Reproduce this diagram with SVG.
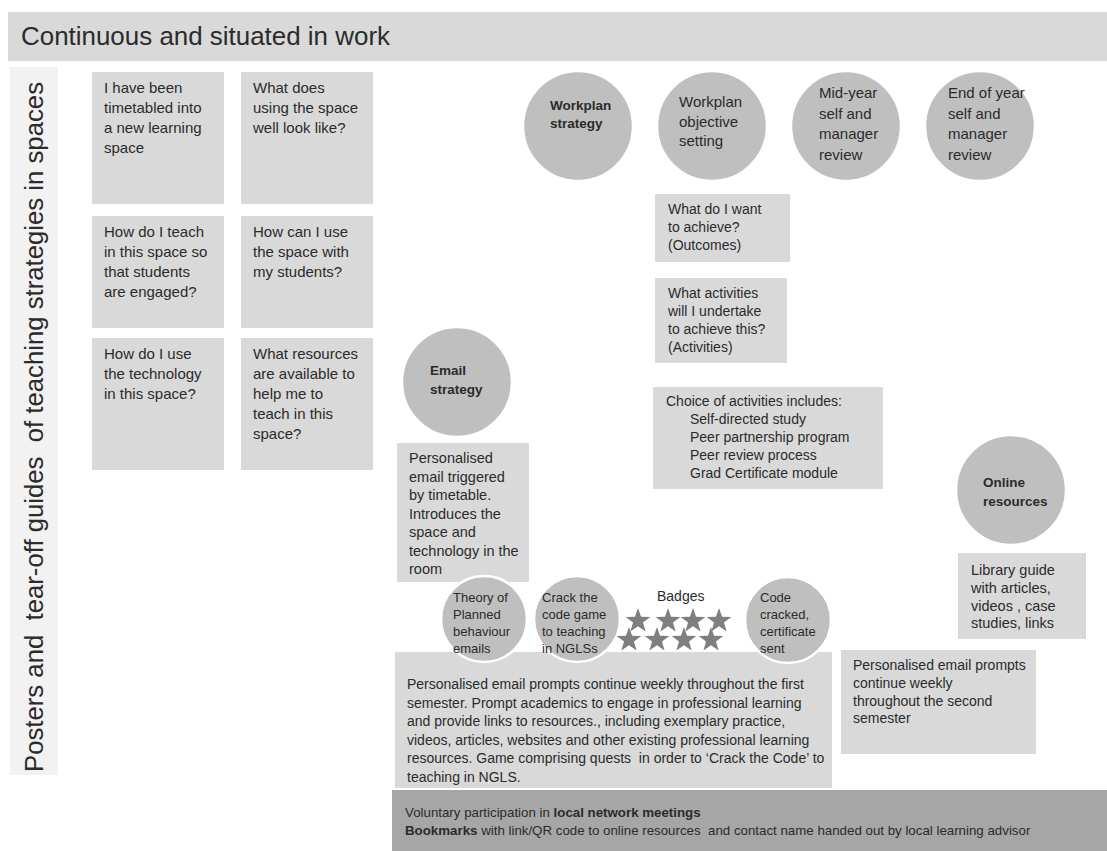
<svg xmlns="http://www.w3.org/2000/svg" xmlns:xlink="http://www.w3.org/1999/xlink" width="1107" height="851" viewBox="0 0 1107 851">
<style>
.bg{fill:#ffffff}
.box{fill:#d9d9d9}
.dark{fill:#a6a6a6}
.side{fill:#f2f2f2}
.circ{fill:#bfbfbf;stroke:#ffffff;stroke-width:2.5}
.star{fill:#7f7f7f}
text{font-family:"Liberation Sans",Arial,sans-serif;fill:#2b2b2b}
.q{font-size:15px}
.c{font-size:15px}
.s{font-size:13px}
.m{font-size:14px}
.b{font-weight:bold}
</style>
<defs>
<polygon id="star" points="0,-13 3.06,-4.21 12.36,-4.02 4.95,1.61 7.64,10.52 0,5.2 -7.64,10.52 -4.95,1.61 -12.36,-4.02 -3.06,-4.21"/>
</defs>
<rect class="bg" x="0" y="0" width="1107" height="851"/>

<g id="header">
<rect class="box" x="8" y="12" width="1099" height="49"/>
<text x="21" y="45" font-size="25" textLength="369" lengthAdjust="spacingAndGlyphs">Continuous and situated in work</text>
</g>

<g id="side-label">
<rect class="side" x="10" y="67" width="48" height="708"/>
<text transform="translate(43,772) rotate(-90)" font-size="25" xml:space="preserve" textLength="690" lengthAdjust="spacingAndGlyphs">Posters and  tear-off guides  of teaching strategies in spaces</text>
</g>

<g id="q1">
<rect class="box" x="92" y="72" width="132" height="132"/>
<text class="q" x="104" y="93">I have been</text>
<text class="q" x="104" y="113">timetabled into</text>
<text class="q" x="104" y="133">a new learning</text>
<text class="q" x="104" y="153">space</text>
</g>
<g id="q2">
<rect class="box" x="241" y="72" width="132" height="132"/>
<text class="q" x="253" y="93">What does</text>
<text class="q" x="253" y="113">using the space</text>
<text class="q" x="253" y="133">well look like?</text>
</g>
<g id="q3">
<rect class="box" x="92" y="216" width="132" height="112"/>
<text class="q" x="104" y="237">How do I teach</text>
<text class="q" x="104" y="257">in this space so</text>
<text class="q" x="104" y="277">that students</text>
<text class="q" x="104" y="297">are engaged?</text>
</g>
<g id="q4">
<rect class="box" x="241" y="216" width="132" height="112"/>
<text class="q" x="253" y="237">How can I use</text>
<text class="q" x="253" y="257">the space with</text>
<text class="q" x="253" y="277">my students?</text>
</g>
<g id="q5">
<rect class="box" x="92" y="338" width="132" height="132"/>
<text class="q" x="104" y="359">How do I use</text>
<text class="q" x="104" y="379">the technology</text>
<text class="q" x="104" y="399">in this space?</text>
</g>
<g id="q6">
<rect class="box" x="241" y="338" width="132" height="132"/>
<text class="q" x="253" y="359">What resources</text>
<text class="q" x="253" y="379">are available to</text>
<text class="q" x="253" y="399">help me to</text>
<text class="q" x="253" y="419">teach in this</text>
<text class="q" x="253" y="439">space?</text>
</g>

<g id="workplan-strategy">
<circle class="circ" cx="578" cy="126" r="55"/>
<text class="b" font-size="13.5" x="550" y="110">Workplan</text>
<text class="b" font-size="13.5" x="550" y="128">strategy</text>
</g>
<g id="workplan-objective">
<circle class="circ" cx="712" cy="126" r="55"/>
<text class="c" x="679" y="107">Workplan</text>
<text class="c" x="679" y="126.5">objective</text>
<text class="c" x="679" y="146">setting</text>
</g>
<g id="mid-year">
<circle class="circ" cx="846" cy="126" r="55"/>
<text class="c" x="819" y="98">Mid-year</text>
<text class="c" x="819" y="118.5">self and</text>
<text class="c" x="819" y="139">manager</text>
<text class="c" x="819" y="159.5">review</text>
</g>
<g id="end-of-year">
<circle class="circ" cx="980" cy="126" r="55"/>
<text class="c" x="948" y="98">End of year</text>
<text class="c" x="948" y="118.5">self and</text>
<text class="c" x="948" y="139">manager</text>
<text class="c" x="948" y="159.5">review</text>
</g>

<g id="outcomes">
<rect class="box" x="655" y="194" width="135" height="68"/>
<text class="m" x="668" y="214">What do I want</text>
<text class="m" x="668" y="232">to achieve?</text>
<text class="m" x="668" y="250">(Outcomes)</text>
</g>
<g id="activities">
<rect class="box" x="655" y="278" width="132" height="85"/>
<text class="m" x="668" y="298">What activities</text>
<text class="m" x="668" y="316">will I undertake</text>
<text class="m" x="668" y="334">to achieve this?</text>
<text class="m" x="668" y="352">(Activities)</text>
</g>
<g id="choice">
<rect class="box" x="653" y="387" width="230" height="102"/>
<text class="m" x="666" y="406">Choice of activities includes:</text>
<text class="m" x="690" y="424">Self-directed study</text>
<text class="m" x="690" y="442">Peer partnership program</text>
<text class="m" x="690" y="460">Peer review process</text>
<text class="m" x="690" y="478">Grad Certificate module</text>
</g>

<g id="email-strategy">
<circle class="circ" cx="457" cy="382" r="55"/>
<text class="b" font-size="13.5" x="430" y="375">Email</text>
<text class="b" font-size="13.5" x="430" y="394">strategy</text>
</g>
<g id="email-triggered">
<rect class="box" x="397" y="443" width="132" height="139"/>
<text font-size="14.5" x="409" y="463">Personalised</text>
<text font-size="14.5" x="409" y="481.5">email triggered</text>
<text font-size="14.5" x="409" y="500">by timetable.</text>
<text font-size="14.5" x="409" y="518.5">Introduces the</text>
<text font-size="14.5" x="409" y="537">space and</text>
<text font-size="14.5" x="409" y="555.5">technology in the</text>
<text font-size="14.5" x="409" y="574">room</text>
</g>

<g id="online-resources">
<circle class="circ" cx="1011" cy="490" r="55"/>
<text class="b" font-size="13.5" x="983" y="487">Online</text>
<text class="b" font-size="13.5" x="983" y="506">resources</text>
</g>
<g id="library-guide">
<rect class="box" x="958" y="553" width="128" height="86"/>
<text font-size="14.5" x="971" y="575">Library guide</text>
<text font-size="14.5" x="971" y="593">with articles,</text>
<text font-size="14.5" x="971" y="611">videos , case</text>
<text font-size="14.5" x="971" y="628">studies, links</text>
</g>

<g id="first-semester">
<rect class="box" x="395" y="652" width="437" height="136"/>
<text class="m" x="407" y="689">Personalised email prompts continue weekly throughout the first</text>
<text class="m" x="407" y="707.5">semester. Prompt academics to engage in professional learning</text>
<text class="m" x="407" y="726">and provide links to resources., including exemplary practice,</text>
<text class="m" x="407" y="744.5">videos, articles, websites and other existing professional learning</text>
<text class="m" x="407" y="763" xml:space="preserve">resources. Game comprising quests  in order to ‘Crack the Code’ to</text>
<text class="m" x="407" y="781.5">teaching in NGLS.</text>
</g>

<g id="theory-planned">
<circle class="circ" cx="484" cy="619" r="43"/>
<text class="s" x="453" y="602">Theory of</text>
<text class="s" x="453" y="619">Planned</text>
<text class="s" x="453" y="636">behaviour</text>
<text class="s" x="453" y="653">emails</text>
</g>
<g id="crack-code">
<circle class="circ" cx="577" cy="619" r="43"/>
<text class="s" x="542" y="602">Crack the</text>
<text class="s" x="542" y="619">code game</text>
<text class="s" x="542" y="636">to teaching</text>
<text class="s" x="542" y="653">in NGLSs</text>
</g>
<g id="badges">
<text class="m" x="657" y="601">Badges</text>
<use href="#star" class="star" x="638" y="621"/>
<use href="#star" class="star" x="668" y="621"/>
<use href="#star" class="star" x="693" y="621"/>
<use href="#star" class="star" x="719" y="621"/>
<use href="#star" class="star" x="629" y="640"/>
<use href="#star" class="star" x="657" y="640"/>
<use href="#star" class="star" x="684" y="640"/>
<use href="#star" class="star" x="711" y="640"/>
</g>
<g id="code-cracked">
<circle class="circ" cx="788" cy="620" r="43"/>
<text class="s" x="760" y="602">Code</text>
<text class="s" x="760" y="619">cracked,</text>
<text class="s" x="760" y="636">certificate</text>
<text class="s" x="760" y="653">sent</text>
</g>

<g id="second-semester">
<rect class="box" x="841" y="650" width="195" height="104"/>
<text class="m" x="853" y="670">Personalised email prompts</text>
<text class="m" x="853" y="688">continue weekly</text>
<text class="m" x="853" y="705.5">throughout the second</text>
<text class="m" x="853" y="723">semester</text>
</g>

<g id="network-bar">
<rect class="dark" x="392" y="790" width="715" height="61"/>
<text font-size="13.3" x="405" y="817">Voluntary participation in <tspan class="b">local network meetings</tspan></text>
<text font-size="13.3" x="405" y="835" xml:space="preserve"><tspan class="b">Bookmarks</tspan> with link/QR code to online resources  and contact name handed out by local learning advisor</text>
</g>

<g id="connectors"></g>
</svg>
